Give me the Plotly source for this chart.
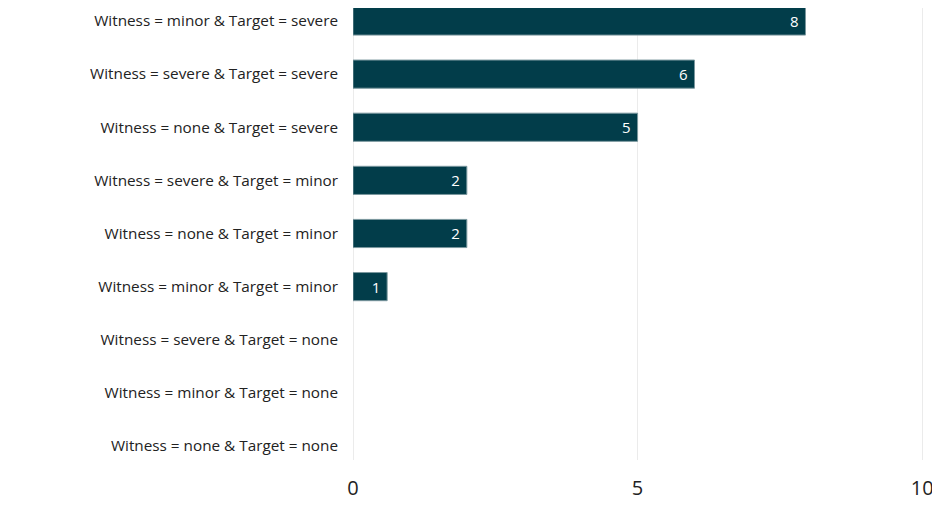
import plotly.graph_objects as go

categories = [
    "Witness = none & Target = none",
    "Witness = minor & Target = none",
    "Witness = severe & Target = none",
    "Witness = minor & Target = minor",
    "Witness = none & Target = minor",
    "Witness = severe & Target = minor",
    "Witness = none & Target = severe",
    "Witness = severe & Target = severe",
    "Witness = minor & Target = severe",
]
counts = [0, 0, 0, 0.6, 2, 2, 5, 6, 7.95]

x_ticks = [0, 5, 10]

# no outline on empty bars, otherwise they show up as a dark stub on the zero line
outline = ["#7a979e" if c > 0 else "rgba(0,0,0,0)" for c in counts]

fig = go.Figure()

fig.add_trace(
    go.Bar(
        x=counts,
        y=categories,
        orientation="h",
        width=0.53,
        marker={"color": "#023d4a", "line": {"color": outline, "width": 1}},
        texttemplate="%{x:.0f} ",
        textposition="inside",
        insidetextanchor="end",
        textfont={"color": "white", "size": 15, "family": "Open Sans"},
        hoverinfo="x+y",
    )
)

# range a bit past 10 so the last gridline isn't dropped at the plot edge
fig.update_xaxes(
    range=[0, 10.05],
    tickvals=x_ticks,
    showgrid=True,
    gridcolor="#ebebeb",
    gridwidth=1,
    zeroline=True,
    zerolinecolor="#ebebeb",
    zerolinewidth=1,
    showline=False,
    tickfont={"size": 20, "color": "#222222", "family": "Open Sans"},
    ticklabelstandoff=14,
)

fig.update_yaxes(
    type="category",
    range=[-0.264, 8.245],
    showgrid=False,
    showline=False,
    tickfont={"size": 15.3, "color": "#222222", "family": "Open Sans"},
    ticklabelstandoff=14,
)

fig.update_layout(
    width=932,
    height=507,
    margin={"l": 345, "r": 15, "t": 0, "b": 55},
    plot_bgcolor="white",
    paper_bgcolor="white",
    showlegend=False,
    font={"family": "Open Sans"},
)

fig.write_html("out.html")
